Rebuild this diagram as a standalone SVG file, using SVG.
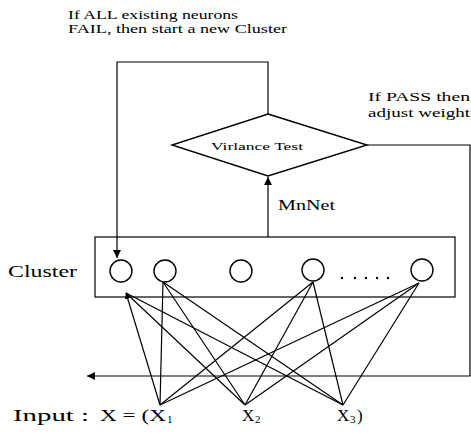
<svg xmlns="http://www.w3.org/2000/svg" width="471" height="439" viewBox="0 0 471 439">
<style>
.ln{stroke:#000;stroke-width:1.2;fill:none}
.nd{stroke:#000;stroke-width:1.4;fill:#fff}
text{font-family:"Liberation Serif","DejaVu Serif",serif;fill:#000}
</style>
<defs>
<marker id="ah" viewBox="0 0 10 10" refX="10" refY="5" markerWidth="8" markerHeight="8" markerUnits="userSpaceOnUse" orient="auto"><path d="M0,0 L10,5 L0,10 z" fill="#000"/></marker>
<marker id="ahs" viewBox="0 0 10 10" refX="10" refY="5" markerWidth="6" markerHeight="6" markerUnits="userSpaceOnUse" orient="auto"><path d="M0,0 L10,5 L0,10 z" fill="#000"/></marker>
</defs>
<rect width="471" height="439" fill="#fff"/>

<g id="labels">
<text x="68" y="19" font-size="13" textLength="170" lengthAdjust="spacingAndGlyphs">If ALL existing neurons</text>
<text x="68" y="33" font-size="13" textLength="219" lengthAdjust="spacingAndGlyphs">FAIL, then start a new Cluster</text>
<text x="368" y="101" font-size="13" textLength="102" lengthAdjust="spacingAndGlyphs">If PASS then</text>
<text x="368" y="117" font-size="13" textLength="102" lengthAdjust="spacingAndGlyphs">adjust weight</text>
<text x="278" y="210" font-size="15" textLength="57" lengthAdjust="spacingAndGlyphs">MnNet</text>
</g>

<g id="connectors">
<polyline class="ln" points="268,114 268,62 117,62 117,258" marker-end="url(#ah)"/>
<line class="ln" x1="268" y1="237" x2="268" y2="177" marker-end="url(#ah)"/>
<polyline class="ln" points="367,145 470,145 470,376 87,376" marker-end="url(#ah)"/>
<line class="ln" x1="160" y1="405" x2="126" y2="293" marker-end="url(#ahs)"/>
<line class="ln" x1="245" y1="405" x2="126" y2="293"/>
<line class="ln" x1="343" y1="405" x2="126" y2="293"/>
<line class="ln" x1="160" y1="405" x2="163" y2="282"/>
<line class="ln" x1="245" y1="405" x2="163" y2="282"/>
<line class="ln" x1="343" y1="405" x2="163" y2="282"/>
<line class="ln" x1="160" y1="405" x2="313" y2="282"/>
<line class="ln" x1="245" y1="405" x2="313" y2="282"/>
<line class="ln" x1="343" y1="405" x2="313" y2="282"/>
<line class="ln" x1="160" y1="405" x2="419" y2="283"/>
<line class="ln" x1="245" y1="405" x2="419" y2="283"/>
<line class="ln" x1="343" y1="405" x2="419" y2="283"/>
</g>

<g id="test">
<polygon class="nd" points="268,114 367,145 268,176 172,145"/>
<text x="257" y="150" font-size="10" text-anchor="middle" textLength="92" lengthAdjust="spacingAndGlyphs">Virlance Test</text>
</g>

<g id="cluster">
<rect class="ln" x="95" y="237" width="360" height="60"/>
<text x="8" y="277" font-size="17" textLength="69" lengthAdjust="spacingAndGlyphs">Cluster</text>
</g>
<g id="n1"><circle class="nd" cx="121" cy="271" r="11"/></g>
<g id="n2"><circle class="nd" cx="165" cy="271" r="11"/></g>
<g id="n3"><circle class="nd" cx="241" cy="271" r="11"/></g>
<g id="n4"><circle class="nd" cx="313" cy="270" r="11"/></g>
<g id="n5"><circle class="nd" cx="422" cy="270" r="11"/></g>
<g id="dots">
<circle cx="342" cy="278" r="1.2"/><circle cx="355" cy="278" r="1.2"/><circle cx="366" cy="278" r="1.2"/><circle cx="377" cy="278" r="1.2"/><circle cx="388" cy="278" r="1.2"/>
</g>

<g id="input">
<text x="13" y="421" font-size="17" textLength="76" lengthAdjust="spacingAndGlyphs">Input :</text>
<text x="100" y="421" font-size="17" textLength="66" lengthAdjust="spacingAndGlyphs">X = (X</text>
<text x="167" y="423" font-size="11">1</text>
<text x="242" y="421" font-size="17">X</text>
<text x="255" y="423" font-size="11">2</text>
<text x="337" y="421" font-size="17">X</text>
<text x="350" y="423" font-size="11">3</text>
<text x="357" y="421" font-size="17">)</text>
</g>
</svg>
